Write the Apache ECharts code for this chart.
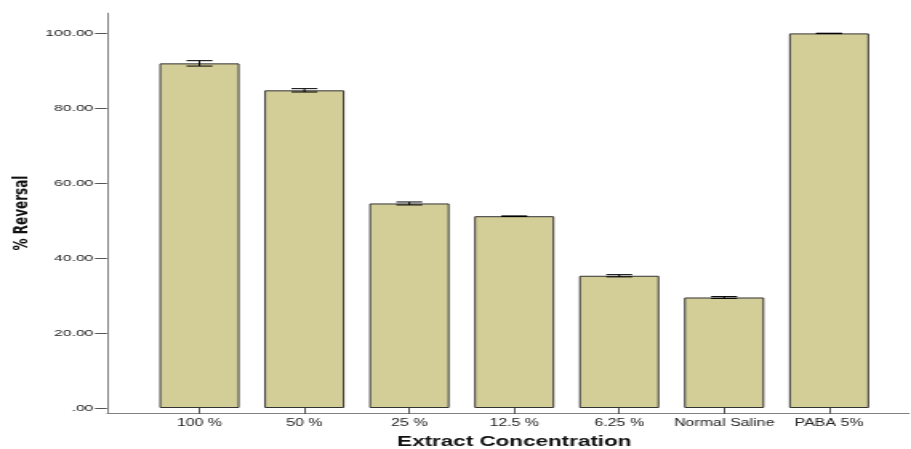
<!DOCTYPE html>
<html>
<head>
<meta charset="utf-8">
<title>% Reversal by Extract Concentration</title>
<script src="https://cdn.jsdelivr.net/npm/echarts@6/dist/echarts.min.js"></script>
<style>
  html, body { margin: 0; padding: 0; background: #fff; overflow: hidden; }
  /* The chart is laid out narrow and widened horizontally, giving the stretched SPSS look */
  #chart { width: 569px; height: 454px; transform: scaleX(1.6011); transform-origin: 0 0; }
</style>
</head>
<body>
<div id="chart"></div>
<script>
// Extract concentrations tested
const categories = ['100 %', '50 %', '25 %', '12.5 %', '6.25 %', 'Normal Saline', 'PABA 5%'];
// Mean % reversal for each group
const meanReversal = [92.0, 84.8, 54.6, 51.2, 35.3, 29.5, 100.0];
// Half-width of the error bar for each group
const errorHalf = [0.72, 0.45, 0.4, 0.08, 0.3, 0.25, 0.05];
// Value-axis tick labels
const yTicks = [0, 20, 40, 60, 80, 100];

const chart = echarts.init(document.getElementById('chart'));

const errorData = categories.map((c, i) => [i, meanReversal[i] - errorHalf[i], meanReversal[i] + errorHalf[i]]);

const axisGrey = '#808080';
const labelFont = 'Liberation Sans, Arial, sans-serif';

chart.setOption({
  animation: false,
  grid: [
    // frame grid: carries the two axis lines and the value-axis title
    { left: 66.8, right: 1.3, top: 13.2, height: 399.6 },
    // data grid: bars, categories and value labels
    { left: 91.8, right: 18.4, top: 33.4, height: 379.4 }
  ],
  xAxis: [
    {
      gridIndex: 0, type: 'value', min: 0, max: 1,
      axisLine: { show: true, lineStyle: { color: axisGrey, width: 1 } },
      axisTick: { show: false }, axisLabel: { show: false }, splitLine: { show: false }
    },
    {
      gridIndex: 1, type: 'category', data: categories,
      axisLine: { show: false },
      axisTick: { show: true, alignWithLabel: true, length: 6, lineStyle: { color: '#555' } },
      axisLabel: { color: '#222', fontFamily: labelFont, fontSize: 10, margin: 10.5, interval: 0 },
      name: 'Extract Concentration',
      nameLocation: 'middle',
      nameGap: 27,
      nameTextStyle: { color: '#111', fontFamily: labelFont, fontWeight: 'bold', fontSize: 14 }
    }
  ],
  yAxis: [
    {
      gridIndex: 0, type: 'value', min: 0, max: 1,
      axisLine: { show: true, lineStyle: { color: axisGrey, width: 1 } },
      axisTick: { show: false }, axisLabel: { show: false }, splitLine: { show: false },
      name: '% Reversal',
      nameLocation: 'middle',
      nameGap: 47,
      nameTextStyle: { color: '#111', fontFamily: 'DejaVu Sans, sans-serif', fontWeight: 'bold', fontSize: 12 }
    },
    {
      gridIndex: 1, type: 'value', min: yTicks[0], max: yTicks[yTicks.length - 1], interval: 20,
      offset: 25,
      axisLine: { show: false },
      axisTick: { show: true, length: 7.5, lineStyle: { color: '#555' } },
      axisLabel: {
        color: '#222', fontFamily: labelFont, fontSize: 9.8, margin: 8.5,
        formatter: v => (v === 0 ? '.00' : v.toFixed(2))
      },
      splitLine: { show: false }
    }
  ],
  series: [
    {
      type: 'bar',
      xAxisIndex: 1, yAxisIndex: 1,
      data: meanReversal,
      barWidth: 50,
      itemStyle: { color: '#d3cd98', borderColor: '#333', borderWidth: 1 }
    },
    {
      type: 'custom',
      xAxisIndex: 1, yAxisIndex: 1,
      data: errorData,
      z: 10,
      renderItem: function (params, api) {
        const x = api.value(0);
        const lo = api.coord([x, api.value(1)]);
        const hi = api.coord([x, api.value(2)]);
        const half = 8.1;
        const style = { stroke: '#000', lineWidth: 1 };
        return {
          type: 'group',
          children: [
            { type: 'line', shape: { x1: lo[0], y1: lo[1], x2: hi[0], y2: hi[1] }, style },
            { type: 'line', shape: { x1: hi[0] - half, y1: hi[1], x2: hi[0] + half, y2: hi[1] }, style },
            { type: 'line', shape: { x1: lo[0] - half, y1: lo[1], x2: lo[0] + half, y2: lo[1] }, style }
          ]
        };
      }
    }
  ]
});
</script>
</body>
</html>
